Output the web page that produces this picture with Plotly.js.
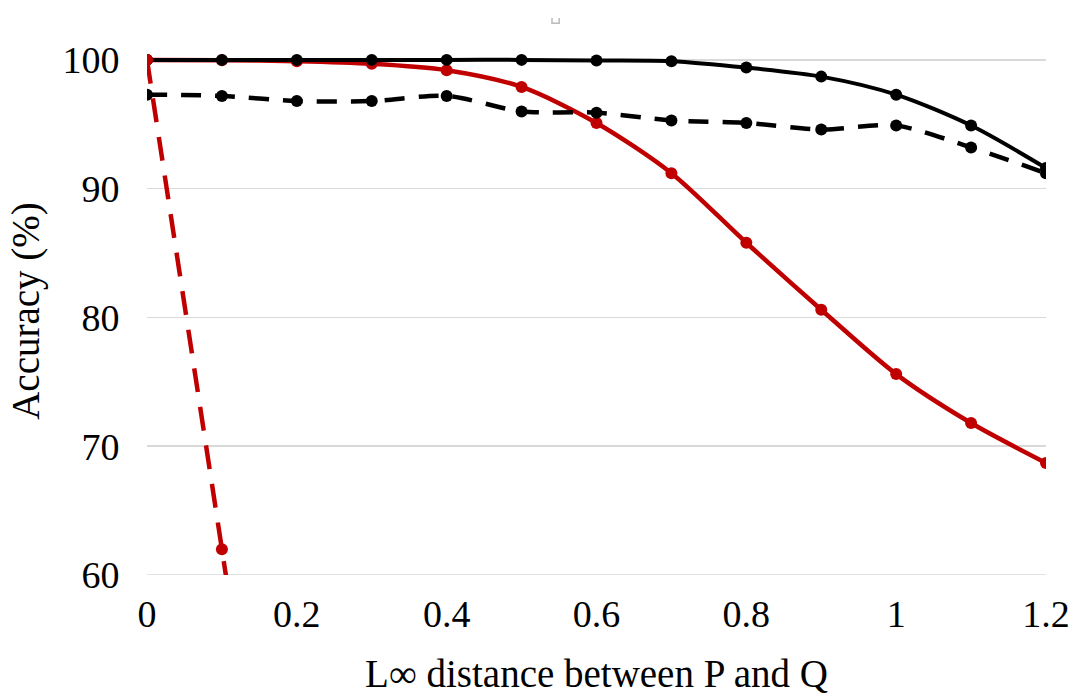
<!DOCTYPE html>
<html>
<head>
<meta charset="utf-8">
<script src="https://cdn.plot.ly/plotly-3.0.1.min.js"></script>
<style>html,body{margin:0;padding:0;background:#fff;}#chart{width:1073px;height:695px;}</style>
</head>
<body>
<div id="chart"></div>
<script>
const distances = [0, 0.1, 0.2, 0.3, 0.4, 0.5, 0.6, 0.7, 0.8, 0.9, 1.0, 1.1, 1.2];
const blackSolid = [100, 100, 100, 100, 100, 100, 99.95, 99.9, 99.4, 98.7, 97.3, 94.9, 91.6];
const blackDashed = [97.3, 97.2, 96.8, 96.8, 97.2, 96.0, 95.9, 95.3, 95.1, 94.6, 94.9, 93.2, 91.2];
const redSolid = [100, 99.97, 99.9, 99.7, 99.2, 97.9, 95.1, 91.2, 85.8, 80.6, 75.6, 71.8, 68.7];
const redDashedX = [0, 0.1, 0.2];
const redDashed = [100, 62.0, 24];
const yTicks = [60, 70, 80, 90, 100];
const xTicks = [0, 0.2, 0.4, 0.6, 0.8, 1, 1.2];
const xTickText = ['0', '0.2', '0.4', '0.6', '0.8', '1', '1.2'];

const RED = '#C00000';
const BLACK = '#000000';
const SERIF = 'Liberation Serif, Times New Roman, serif';
const traces = [
  {x: distances, y: redSolid, mode: 'lines+markers', line: {color: RED, width: 4.5, shape: 'spline', smoothing: 0.8}, marker: {color: RED, size: 12}},
  {x: distances, y: blackDashed, mode: 'lines+markers', line: {color: BLACK, width: 4.5, dash: '20px,14px', shape: 'spline', smoothing: 0.8}, marker: {color: BLACK, size: 12}},
  {x: distances, y: blackSolid, mode: 'lines+markers', line: {color: BLACK, width: 4, shape: 'spline', smoothing: 0.8}, marker: {color: BLACK, size: 12}},
  {x: redDashedX, y: redDashed, mode: 'lines+markers', line: {color: RED, width: 4.5, dash: '24px,15px'}, marker: {color: RED, size: 12}}
];

const layout = {
  width: 1073, height: 695,
  margin: {l: 147, r: 27, t: 47, b: 120},
  paper_bgcolor: '#fff', plot_bgcolor: '#fff',
  showlegend: false,
  font: {family: SERIF, color: '#000'},
  xaxis: {
    range: [0, 1.2], tickvals: xTicks, ticktext: xTickText,
    showgrid: false, zeroline: false, showline: false,
    ticks: 'outside', ticklen: 5, tickcolor: 'rgba(0,0,0,0)',
    tickfont: {size: 38, family: SERIF, color: '#000'},
    title: {text: 'L∞ distance between P and Q', font: {size: 39, family: SERIF, color: '#000'}, standoff: 33},
    automargin: false
  },
  yaxis: {
    range: [60, 101], tickvals: yTicks,
    showgrid: true, gridcolor: '#d9d9d9', gridwidth: 1.5, zeroline: false, showline: false,
    ticks: 'outside', ticklen: 19, tickcolor: 'rgba(0,0,0,0)',
    tickfont: {size: 38, family: SERIF, color: '#000'},
    title: {text: 'Accuracy (%)', font: {size: 39, family: SERIF, color: '#000'}, standoff: 10},
    automargin: false
  },
  shapes: [
    {type: 'line', xref: 'x', yref: 'y', x0: 0, x1: 1.2, y0: 60, y1: 60, line: {color: '#d9d9d9', width: 1.5}, layer: 'below'},
    {type: 'path', xref: 'paper', yref: 'paper', path: 'M 0.4505 1.055 L 0.4505 1.045 L 0.4585 1.045 L 0.4585 1.055', line: {color: '#bbbbbb', width: 1.5}}
  ]
};

Plotly.newPlot('chart', traces, layout, {displayModeBar: false, staticPlot: true});
</script>
</body>
</html>
